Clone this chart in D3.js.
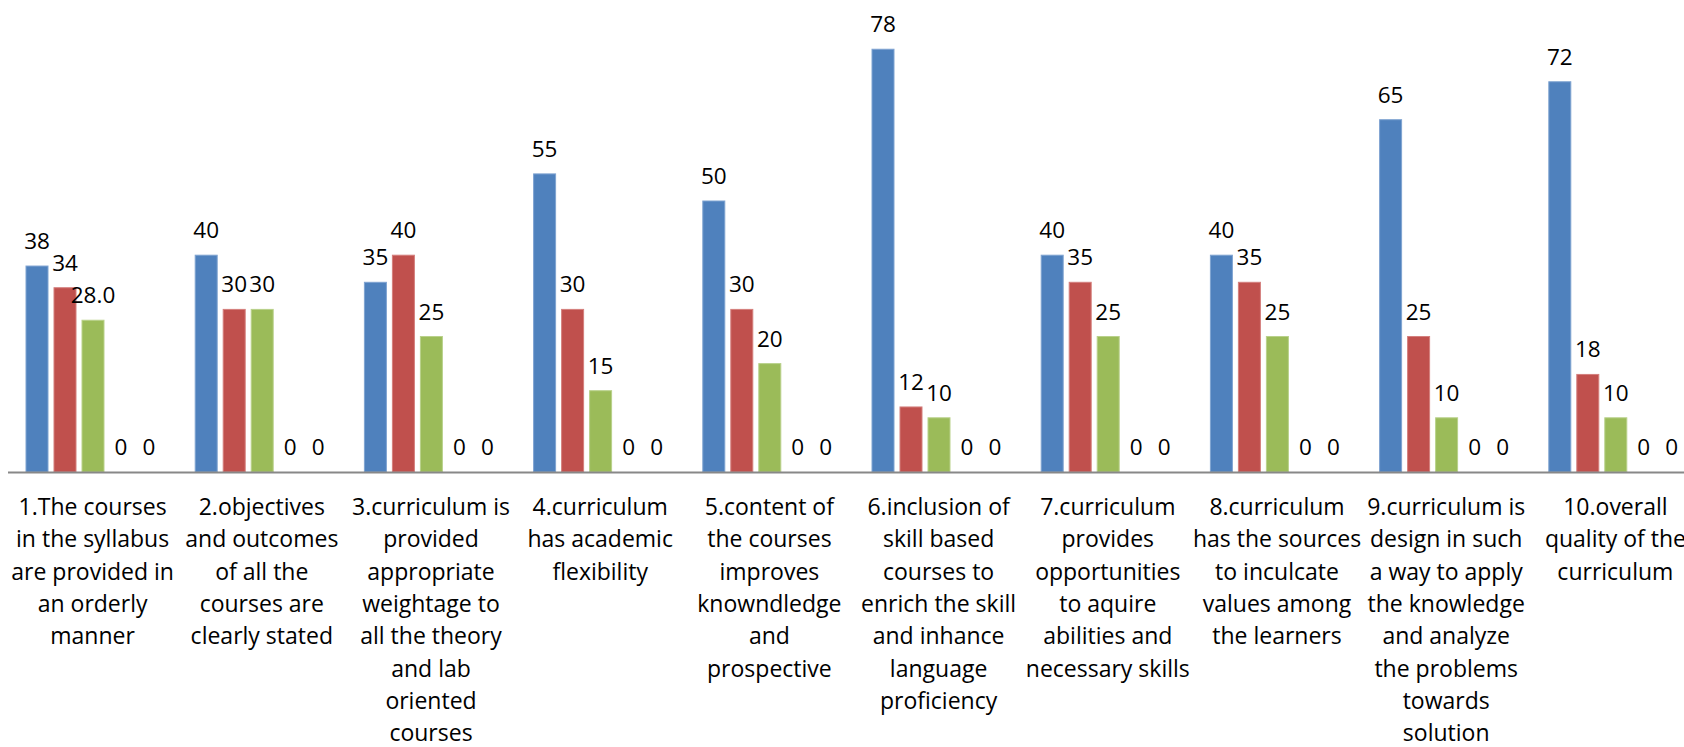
<!DOCTYPE html>
<html>
<head>
<meta charset="utf-8">
<script src="https://cdn.jsdelivr.net/npm/d3@7"></script>
<style>
  body { margin: 0; background: #fff; overflow: hidden; }
  svg { display: block; }
</style>
</head>
<body>
<div id="chart"></div>
<script>
const categories = [
  ['1.The courses', 'in the syllabus', 'are provided in', 'an orderly', 'manner'],
  ['2.objectives', 'and outcomes', 'of all the', 'courses are', 'clearly stated'],
  ['3.curriculum is', 'provided', 'appropriate', 'weightage to', 'all the theory', 'and lab', 'oriented', 'courses'],
  ['4.curriculum', 'has academic', 'flexibility'],
  ['5.content of', 'the courses', 'improves', 'knowndledge', 'and', 'prospective'],
  ['6.inclusion of', 'skill based', 'courses to', 'enrich the skill', 'and inhance', 'language', 'proficiency'],
  ['7.curriculum', 'provides', 'opportunities', 'to aquire', 'abilities and', 'necessary skills'],
  ['8.curriculum', 'has the sources', 'to inculcate', 'values among', 'the learners'],
  ['9.curriculum is', 'design in such', 'a way to apply', 'the knowledge', 'and analyze', 'the problems', 'towards', 'solution'],
  ['10.overall', 'quality of the', 'curriculum']
];

const seriesA = [38, 40, 35, 55, 50, 78, 40, 40, 65, 72];
const seriesB = [34, 30, 40, 30, 30, 12, 35, 35, 25, 18];
const seriesC = [28, 30, 25, 15, 20, 10, 25, 25, 10, 10];
const seriesD = [0, 0, 0, 0, 0, 0, 0, 0, 0, 0];
const seriesE = [0, 0, 0, 0, 0, 0, 0, 0, 0, 0];

// the first green label is shown with one decimal in the original
const labelDecimals = { 'C-0': 1 };

const seriesNames = ['A', 'B', 'C', 'D', 'E'];
const seriesValues = [seriesA, seriesB, seriesC, seriesD, seriesE];
const colors = ['#4F81BD', '#C0504D', '#9BBB59', '#8064A2', '#4BACC6'];
const strokes = ['#7fa3d1', '#d47f7d', '#b9d18a', '#a08cbd', '#7fc4d8'];

const width = 1684, height = 747;
const baseY = 472;
const font = '"Open Sans", Lato, sans-serif';

const svg = d3.select('#chart')
  .append('svg')
    .attr('width', width)
    .attr('height', height);

const x0 = d3.scaleBand()
  .domain(d3.range(categories.length))
  .range([8, 8 + 169.2 * categories.length])
  .paddingInner(0)
  .paddingOuter(0);

const x1 = d3.scaleBand()
  .domain(seriesNames)
  .range([18, 152])
  .paddingInner(6 / 28)
  .paddingOuter(0);

const y = d3.scaleLinear()
  .domain([0, 80])
  .range([baseY, baseY - 80 * 5.42]);

const rows = categories.map((c, i) => ({
  i,
  values: seriesNames.map((s, k) => ({ s, k, v: seriesValues[k][i] }))
}));

const groups = svg.selectAll('.cat')
  .data(rows)
  .enter().append('g')
    .attr('class', 'cat')
    .attr('transform', d => `translate(${x0(d.i)},0)`);

groups.selectAll('rect')
  .data(d => d.values.filter(v => v.v > 0))
  .enter().append('rect')
    .attr('x', d => x1(d.s))
    .attr('y', d => y(d.v))
    .attr('width', x1.bandwidth())
    .attr('height', d => y(0) - y(d.v))
    .attr('fill', d => colors[d.k])
    .attr('stroke', d => strokes[d.k])
    .attr('stroke-width', 1);

groups.selectAll('.lbl')
  .data(d => d.values.map(v => Object.assign({ i: d.i }, v)))
  .enter().append('text')
    .attr('class', 'lbl')
    .attr('x', d => x1(d.s) + x1.bandwidth() / 2)
    .attr('y', d => y(d.v) - 17)
    .attr('text-anchor', 'middle')
    .attr('font-family', font)
    .attr('font-size', '22.5px')
    .attr('fill', '#000')
    .text(d => {
      const dec = labelDecimals[`${d.s}-${d.i}`];
      return dec ? d.v.toFixed(dec) : d.v;
    });

// x axis line
svg.append('line')
  .attr('x1', 8)
  .attr('x2', width)
  .attr('y1', baseY + 0.5)
  .attr('y2', baseY + 0.5)
  .attr('stroke', '#888')
  .attr('stroke-width', 2);

// category labels
const catText = svg.selectAll('.catlbl')
  .data(categories)
  .enter().append('text')
    .attr('class', 'catlbl')
    .attr('x', (d, i) => x0(i) + x0.bandwidth() / 2)
    .attr('y', 515)
    .attr('text-anchor', 'middle')
    .attr('font-family', font)
    .attr('font-size', '23px')
    .attr('fill', '#000');

catText.selectAll('tspan')
  .data((d, i) => d.map(line => ({ line, i })))
  .enter().append('tspan')
    .attr('x', d => x0(d.i) + x0.bandwidth() / 2)
    .attr('dy', (d, j) => j === 0 ? 0 : 32.3)
    .text(d => d.line);
</script>
</body>
</html>
